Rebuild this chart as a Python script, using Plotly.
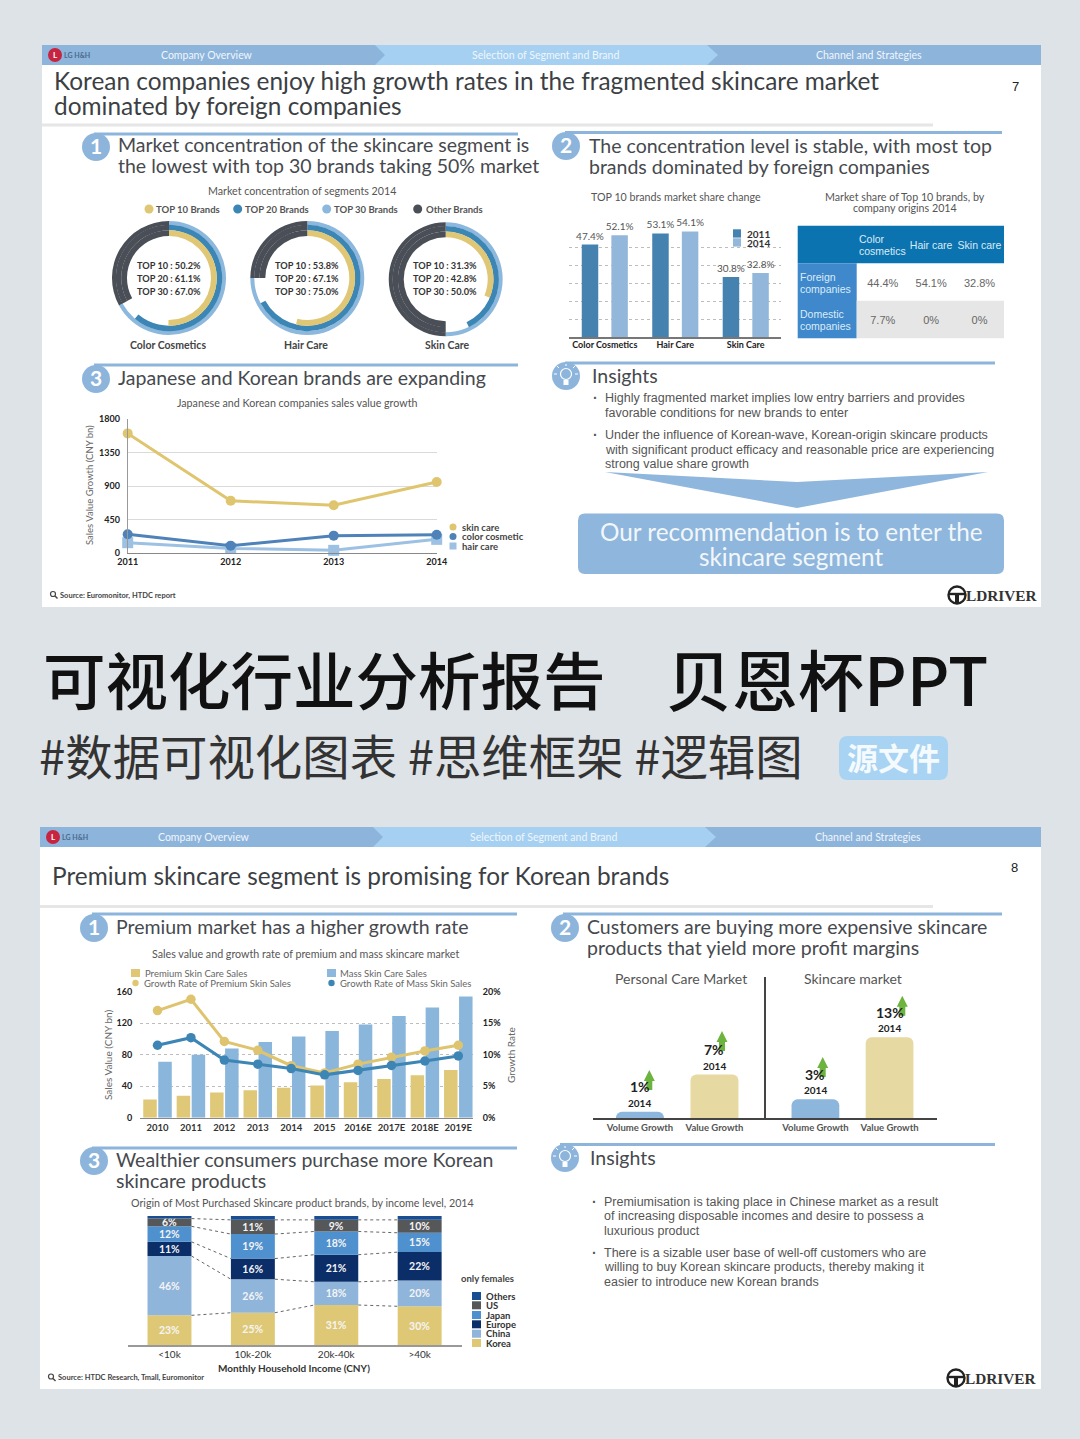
import plotly.graph_objects as go

W, H = 1080, 1439
PAGE = "#DEE3E7"
BLUE = "#8DB5DC"
LIGHT = "#A5D0F2"
YEL = "#DFC775"
DARK = "#4A4F57"
HEAD = "Lato"
SMALL = "Lato"
ARIAL = "Liberation Sans"
CJK = "Noto Sans CJK SC"

# ---- data, slide 7 ----
donut_names = ["Color Cosmetics", "Hair Care", "Skin Care"]
top10 = [50.2, 53.8, 31.3]
top20 = [61.1, 67.1, 42.8]
top30 = [67.0, 75.0, 50.0]
share_cats = ["Color Cosmetics", "Hair Care", "Skin Care"]
share_2011 = [47.4, 53.1, 30.8]
share_2014 = [52.1, 54.1, 32.8]
table_head = ["", "", "Hair\u00a0care", "Skin\u00a0care"]
table_rows = ["", ""]
table_color = ["44.4%", "7.7%"]
table_hair = ["54.1%", "0%"]
table_skin = ["32.8%", "0%"]
jk_years = ["2011", "2012", "2013", "2014"]
jk_skin = [1610, 700, 640, 955]
jk_color = [250, 95, 230, 243]
jk_hair = [135, 58, 32, 180]
jk_ticks = [0, 450, 900, 1350, 1800]

# ---- data, slide 8 ----
prem_years = ["2010", "2011", "2012", "2013", "2014", "2015", "2016E", "2017E", "2018E", "2019E"]
prem_sales = [23, 28, 32, 35, 38, 41, 45, 49, 54, 60.5]
mass_sales = [71, 80, 88, 96, 103, 110, 118.5, 129, 140, 154]
prem_growth = [17.0, 18.8, 12.1, 10.7, 8.25, 7.1, 8.5, 9.6, 10.6, 11.5]
mass_growth = [11.5, 12.7, 9.15, 8.5, 7.8, 6.8, 7.5, 8.3, 9.0, 9.8]
sales_ticks = [0, 40, 80, 120, 160]
growth_ticks = [0, 5, 10, 15, 20]
vg_cats = ["Volume Growth", "Value Growth"]
vg_personal = [1, 7]
vg_skincare = [3, 13]
income = ["<10k", "10k-20k", "20k-40k", ">40k"]
origin_names = ["Korea", "China", "Europe", "Japan", "US", "Others"]
origin_korea = [23, 25, 31, 30]
origin_china = [46, 26, 18, 20]
origin_europe = [11, 16, 21, 22]
origin_japan = [12, 19, 18, 15]
origin_us = [6, 11, 9, 10]
origin_others = [2, 3, 3, 3]
origin_colors = ["#DFC875", "#90B5DB", "#0B2E69", "#4F90CE", "#555759", "#1B4E90"]

shapes, anns, traces = [], [], []


def dx(a, b):
    return [a / W, b / W]


def dy(top, bot):
    return [1 - bot / H, 1 - top / H]


def T(x, y, text, size=11, color="#555", anchor="center", bold=False, font=SMALL, angle=0, weight=None, **kw):
    xr, yr = kw.pop("xref", "x"), kw.pop("yref", "y")
    if xr == "x":
        if anchor == "left":
            x -= 1
        if font == SMALL and size >= 13:
            y -= size * 0.07
    anns.append(dict(x=x, y=y, xref=xr, yref=yr, text=text, showarrow=False,
                     xanchor=anchor, yanchor="middle", textangle=angle, borderpad=0,
                     font=dict(family=font, size=size, color=color, weight=weight or (700 if bold else 400)), **kw))


def rect(x0, y0, x1, y1, fill, **kw):
    shapes.append(dict(type="rect", x0=x0, y0=y0, x1=x1, y1=y1, xref="x", yref="y",
                       fillcolor=fill, line=dict(width=0), layer="below", **kw))


def circ(cx, cy, r, fill="rgba(0,0,0,0)", line=None, lw=0):
    shapes.append(dict(type="circle", x0=cx - r, y0=cy - r, x1=cx + r, y1=cy + r, xref="x", yref="y",
                       fillcolor=fill, line=dict(width=lw, color=line or fill), layer="below"))


def poly(path, fill="rgba(0,0,0,0)", line=None, lw=0):
    shapes.append(dict(type="path", path=path, xref="x", yref="y", fillcolor=fill,
                       line=dict(width=lw, color=line or fill), layer="below"))


def rrect(x0, y0, x1, y1, r, fill):
    p = (f"M {x0+r} {y0} L {x1-r} {y0} Q {x1} {y0} {x1} {y0+r} L {x1} {y1-r} Q {x1} {y1} {x1-r} {y1} "
         f"L {x0+r} {y1} Q {x0} {y1} {x0} {y1-r} L {x0} {y0+r} Q {x0} {y0} {x0+r} {y0} Z")
    poly(p, fill)


def hline(x0, x1, y, color, w):
    shapes.append(dict(type="line", x0=x0, x1=x1, y0=y, y1=y, xref="x", yref="y",
                       line=dict(color=color, width=w), layer="below"))


def slide(ox, top, bottom, right, heads):
    rect(ox, top, right, bottom, "white")
    rect(ox, top, right, top + 20, "#8DB4DB")
    poly(f"M {ox+333} {top} L {ox+665} {top} L {ox+676} {top+10} L {ox+665} {top+20} L {ox+333} {top+20} L {ox+343} {top+10} Z", LIGHT)
    circ(ox + 13, top + 10, 7, "#C8243F")
    T(ox + 13, top + 10, "L", 8, "white", bold=True)
    T(ox + 22, top + 10, "LG H&H", 7, "#4A6A8C", "left", True)
    for x, s in heads:
        T(x, top + 10, s, 10.5, "#F1F6FB", font=HEAD)


def number(cx, cy, s):
    circ(cx, cy, 14, "#8DB5DC")
    T(cx, cy, s, 21, "white", bold=True, font=HEAD)


def bulb(cx, cy):
    circ(cx, cy, 14, "#8DB5DC")
    circ(cx, cy - 2, 5.5, "rgba(0,0,0,0)", "white", 1.2)
    rect(cx - 2.5, cy + 4, cx + 2.5, cy + 9, "white")
    for a, b, c, d in [(-9, -2, -12, -2), (9, -2, 12, -2), (-7, -8, -9, -10), (7, -8, 9, -10), (0, -10, 0, -12)]:
        poly(f"M {cx+a} {cy+b} L {cx+c} {cy+d}", line="white", lw=1)


def logo(x, y):
    circ(x, y, 8.5, "rgba(0,0,0,0)", "#222", 2.4)
    hline(x - 8, x + 8, y - 1, "#222", 2.4)
    rect(x - 2, y - 1, x + 2, y + 8, "#222")
    T(x + 9, y + 0.5, "LDRIVER", 15.3, "#333", "left", True, "Liberation Serif")


def source(x, y, s):
    circ(x - 7, y - 1, 2.5, "rgba(0,0,0,0)", "#444", 1.2)
    poly(f"M {x-5} {y+1} L {x-2.5} {y+3.5}", line="#444", lw=1.4)
    T(x, y, s, 7.5, "#444", "left", True)


TITLE = 24.4
SEC = 19.5
# ---- page furniture ----
slide(42, 45, 607, 1041, [(207, "Company Overview"), (545, "Selection of Segment and Brand"), (869, "Channel and Strategies")])
slide(40, 827, 1389, 1041, [(204, "Company Overview"), (543, "Selection of Segment and Brand"), (868, "Channel and Strategies")])

T(54, 82, "Korean companies enjoy high growth rates in the fragmented skincare market", TITLE, "#3C3F44", "left", font=HEAD)
T(54, 107, "dominated by foreign companies", TITLE, "#3C3F44", "left", font=HEAD)
T(1015, 86, "7", 13, "#222", font=ARIAL)
hline(42, 933, 125, "#E6E6E6", 3)
hline(94, 518, 134, BLUE, 3)
hline(565, 1002, 132.5, BLUE, 3)
hline(94, 518, 365, BLUE, 3)
hline(565, 995, 363, BLUE, 3)
number(96, 147, "1")
number(566, 146, "2")
number(96, 379, "3")
bulb(566, 376)
for x, y, s in [(118, 146, "Market concentration of the skincare segment is"),
                (118, 167, "the lowest with top 30 brands taking 50% market"),
                (589, 147, "The concentration level is stable, with most top"),
                (589, 168, "brands dominated by foreign companies"),
                (118, 379, "Japanese and Korean brands are expanding"),
                (592, 377, "Insights")]:
    T(x, y, s, SEC, "#46494E", "left", font=HEAD)

T(302, 190, "Market concentration of segments 2014", 10.7, "#555", font=SMALL)
for cx, fill, x, s in [(149, YEL, 156, "TOP 10 Brands"), (237.7, "#3C86B5", 245, "TOP 20 Brands"),
                       (326.7, "#8DB8DE", 334, "TOP 30 Brands"), (417.7, DARK, 426, "Other Brands")]:
    circ(cx, 209, 4.5, fill)
    T(x, 209, s, 9.5, "#555", "left", True)

# ---- donuts ----
dcenter = [(169, 278), (307.3, 278), (445.7, 279.3)]
for i, (cx, cy) in enumerate(dcenter):
    t1, t2, t3 = top10[i], top20[i], top30[i]
    rest = 100 - t3
    none = "rgba(0,0,0,0)"
    for r, hole, vals, cols in [(57, 53 / 57, [t3, rest], ["#8DB8DE", DARK]),
                                (53.2, 47.7 / 53.2, [t2, t3 - t2, rest], ["#3C86B5", none, DARK]),
                                (47.8, 42 / 47.8, [t1, t3 - t1, rest], [YEL, none, DARK])]:
        traces.append(go.Pie(values=vals, sort=False, direction="clockwise", rotation=0, hole=hole,
                             marker=dict(colors=cols, line=dict(width=0)), textinfo="none", hoverinfo="skip",
                             showlegend=False, domain=dict(x=dx(cx - r, cx + r), y=dy(cy - r, cy + r))))
    tx = cx - 0.5
    T(tx, 265, f"TOP 10 : {t1:.1f}%", 9.2, "#333", bold=True)
    T(tx, 278, f"TOP 20 : {t2:.1f}%", 9.2, "#333", bold=True)
    T(tx, 291.3, f"TOP 30 : {t3:.1f}%", 9.2, "#333", bold=True)
    T(cx - 1 + (i == 2) * 2, 344.5, donut_names[i], 10.5, "#444", bold=True)

# ---- share bars ----
T(676, 196, "TOP 10 brands market share change", 10.7, "#555")
T(905, 196, "Market share of Top 10 brands, by", 10.7, "#555")
T(905, 207.5, "company origins 2014", 10.7, "#555")
for name, vals, col, off in [("2011", share_2011, "#4682B0", -0.327), ("2014", share_2014, "#93B7DA", 0.093)]:
    traces.append(go.Bar(x=share_cats, y=vals, name=name, marker=dict(color=col, line=dict(width=0)),
                         width=0.234, offset=off,
                         xaxis="x2", yaxis="y2", text=[f"{v}%" for v in vals], textposition="outside",
                         textfont=dict(family=SMALL, size=10, color="#555"), cliponaxis=False,
                         hoverinfo="skip", showlegend=False, constraintext="none"))
for y, s, col in [(233.8, "2011", "#4682B0"), (242.8, "2014", "#93B7DA")]:
    rect(733, y - 4.5, 741, y + 3.8, col)
    T(747, y, s, 10, "#333", "left", True)

# ---- table ----
rect(797.7, 225.7, 1004, 263.3, "#0B73AF")
rect(797.7, 263.3, 856.7, 338.3, "#3E88CB")
rect(856.7, 300.8, 1004, 338.3, "#E6E6E6")
traces.append(go.Table(
    domain=dict(x=dx(799.7, 1004), y=dy(233, 349)),
    columnwidth=[59, 48.5, 48.5, 48.5],
    header=dict(values=table_head, height=37.6, fill_color="rgba(0,0,0,0)", line_width=0, align="center",
                font=dict(family=ARIAL, size=10.5, color="#DCEBF6")),
    cells=dict(values=[table_rows, table_color, table_hair, table_skin], height=37.6,
               fill_color="rgba(0,0,0,0)", line_width=0, align="center",
               font=dict(family=ARIAL, size=11, color="#666"))))
T(859, 238.5, "Color", 10.5, "#DCEBF6", "left", font=ARIAL)
T(859, 250.5, "cosmetics", 10.5, "#DCEBF6", "left", font=ARIAL)
T(800, 276.5, "Foreign", 10.5, "#DCEBF8", "left", font=ARIAL)
T(800, 288.5, "companies", 10.5, "#DCEBF8", "left", font=ARIAL)
T(800, 313.7, "Domestic", 10.5, "#DCEBF8", "left", font=ARIAL)
T(800, 325.7, "companies", 10.5, "#DCEBF8", "left", font=ARIAL)

# ---- line chart ----
T(297, 402, "Japanese and Korean companies sales value growth", 10.7, "#555")
for vals, col, sym, sz in [(jk_hair, "#9CC1E3", "square", 11), (jk_color, "#4F82B8", "circle", 10), (jk_skin, "#DFC56E", "circle", 10)]:
    traces.append(go.Scatter(x=jk_years, y=vals, mode="lines+markers", xaxis="x3", yaxis="y3", cliponaxis=False,
                             line=dict(color=col, width=3), marker=dict(color=col, size=sz, symbol=sym),
                             hoverinfo="skip", showlegend=False))
T(89, 485, "Sales Value Growth (CNY bn)", 9.5, "#666", bold=False, angle=-90)
for y, col, s, mk in [(527, "#DFC56E", "skin care", "c"), (536.5, "#4F82B8", "color cosmetic", "c"), (546, "#9CC1E3", "hair care", "s")]:
    if mk == "c":
        circ(453, y, 3.5, col)
    else:
        rect(449.5, y - 3.5, 456.5, y + 3.5, col)
    T(462, y, s, 9.5, "#444", "left", True)
source(60, 595, "Source: Euromonitor, HTDC report")

# ---- insights 1 ----
for x, y, s in [(605, 398, "Highly fragmented market implies low entry barriers and provides"),
                (605, 413, "favorable conditions for new brands to enter"),
                (605, 435, "Under the influence of Korean-wave, Korean-origin skincare products"),
                (605, 450, "with significant product efficacy and reasonable price are experiencing"),
                (605, 464, "strong value share growth")]:
    T(x, y, s, 12.5, "#555", "left", font=ARIAL)
T(595, 398, "·", 14, "#555", font=ARIAL, bold=True)
T(595, 435, "·", 14, "#555", font=ARIAL, bold=True)
poly("M 605 472 L 797 482 L 988 472 L 797 508 Z", "#8FB6DC")
rrect(578, 513.5, 1004, 574, 7, "#8FB6DC")
T(791, 533, "Our recommendation is to enter the", 24.3, "#F2F7FB", font=HEAD)
T(791, 558, "skincare segment", 24.3, "#F2F7FB", font=HEAD)
logo(957, 595)

# ---- banner text ----
T(43, 677, "可视化行业分析报告", 62.5, "#111", "left", False, CJK, weight=500)
T(666, 677, "贝恩杯PPT", 66, "#111", "left", False, CJK, weight=500)
T(39, 754, "#数据可视化图表 #思维框架 #逻辑图", 47.4, "#333", "left", False, CJK)
rrect(839, 736, 948, 780, 9, "#A8D3F2")
T(893.5, 756, "源文件", 31, "#F4FAFE", bold=True, font=CJK)

# ---- slide 8 text ----
T(52, 877, "Premium skincare segment is promising for Korean brands", TITLE, "#3C3F44", "left", font=HEAD)
T(1014, 867, "8", 13, "#222", font=ARIAL)
hline(40, 933, 906.5, "#E6E6E6", 3)
hline(92, 517, 914, BLUE, 3)
hline(563, 1002, 914, BLUE, 3)
hline(92, 517, 1148, BLUE, 3)
hline(560, 995, 1144.5, BLUE, 3)
number(94, 928, "1")
number(565, 928, "2")
number(94, 1161, "3")
bulb(565, 1158)
for x, y, s in [(116, 928, "Premium market has a higher growth rate"),
                (587, 928, "Customers are buying more expensive skincare"),
                (587, 949, "products that yield more profit margins"),
                (116, 1161, "Wealthier consumers purchase more Korean"),
                (116, 1182, "skincare products"),
                (590, 1159, "Insights")]:
    T(x, y, s, SEC, "#46494E", "left", font=HEAD)

# ---- combo chart ----
T(305, 953, "Sales value and growth rate of premium and mass skincare market", 10.7, "#555")
rect(131, 969, 140, 977, YEL)
T(145, 973, "Premium Skin Care Sales", 9.5, "#666", "left")
circ(135.5, 983, 3.2, YEL)
T(144, 983, "Growth Rate of Premium Skin Sales", 9.5, "#666", "left")
rect(327, 969, 336, 977, "#8DB7DD")
T(340, 973, "Mass Skin Care Sales", 9.5, "#666", "left")
circ(331.5, 983, 3.2, "#3D85B5")
T(340, 983, "Growth Rate of Mass Skin Sales", 9.5, "#666", "left")
for vals, col, off in [(prem_sales, "#DFC878", -0.4265), (mass_sales, "#8AB6DC", 0.0225)]:
    traces.append(go.Bar(x=prem_years, y=vals, marker=dict(color=col, line=dict(width=0)), xaxis="x4", yaxis="y4",
                         width=0.404, offset=off, hoverinfo="skip", showlegend=False))
for vals, col in [(prem_growth, "#DFC46F"), (mass_growth, "#3D85B5")]:
    traces.append(go.Scatter(x=prem_years, y=vals, mode="lines+markers", xaxis="x4", yaxis="y5", cliponaxis=False,
                             line=dict(color=col, width=3), marker=dict(color=col, size=9.5),
                             hoverinfo="skip", showlegend=False))
T(108, 1055, "Sales Value (CNY bn)", 10, "#666", angle=-90)
T(511, 1055, "Growth Rate", 10, "#666", angle=-90)

# ---- growth rounded bars ----
T(681, 979, "Personal Care Market", 14, "#555", font=SMALL)
T(852.7, 979, "Skincare market", 14, "#555", font=SMALL)
for vals, xa, ya in [(vg_personal, "x5", "y6"), (vg_skincare, "x6", "y7")]:
    traces.append(go.Bar(x=vg_cats, y=vals, width=0.644, offset=-0.322, xaxis=xa, yaxis=ya, hoverinfo="skip", showlegend=False,
                         marker=dict(color=["#8DB6DC", "#E6D9A2"], line=dict(width=0), cornerradius=6)))
    for c, v in zip(vg_cats, vals):
        T(c, v, "2014", 10, "#222", bold=True, xref=xa, yref=ya, yshift=9)
        T(c, v, f"{v}%", 14, "#222", bold=True, xref=xa, yref=ya, yshift=25)
shapes.append(dict(type="line", x0=765, x1=765, y0=977, y1=1119, xref="x", yref="y", line=dict(color="#444", width=2), layer="below"))
for x, tip in [(649.3, 1070), (722, 1031), (822.7, 1057), (902.3, 995.7)]:
    poly(f"M {x} {tip} L {x+5.5} {tip+11} L {x+3} {tip+11} L {x+3} {tip+20} L {x-3} {tip+20} L {x-3} {tip+11} L {x-5.5} {tip+11} Z", "#6DB33F")

# ---- stacked chart ----
T(302.7, 1202.5, "Origin of Most Purchased Skincare product brands, by income level, 2014", 10.7, "#555")
origin_series = [origin_korea, origin_china, origin_europe, origin_japan, origin_us, origin_others]
BW = 0.527
cum = [0, 0, 0, 0]
for name, vals, col in zip(origin_names, origin_series, origin_colors):
    lab = [""] * 4 if name == "Others" else [f"{v}%" for v in vals]
    traces.append(go.Bar(x=income, y=vals, base=cum, name=name, width=BW, offset=-BW / 2,
                         marker=dict(color=col, line=dict(width=0)), xaxis="x7", yaxis="y8",
                         text=lab, textposition="inside", insidetextanchor="middle", textangle=0, constraintext="none",
                         textfont=dict(family=SMALL, size=10.5, color="#F4F4F4", weight=700), hoverinfo="skip", showlegend=False))
    cum = [a + b for a, b in zip(cum, vals)]
    if name != "Others":
        for i in range(3):
            traces.append(go.Scatter(x=[i + BW / 2, i + 1 - BW / 2], y=[cum[i], cum[i + 1]], mode="lines", xaxis="x8", yaxis="y8",
                                     line=dict(color="#666", width=1, dash="dot"), hoverinfo="skip", showlegend=False))
T(487, 1278, "only females", 9.5, "#444", bold=True)
for y, col, s in zip([1343, 1333.7, 1324.3, 1315, 1305.3, 1296], origin_colors, origin_names):
    rect(472, y - 4, 481, y + 4, col)
    T(486, y, s, 9.5, "#333", "left", True)
T(294, 1368, "Monthly Household Income (CNY)", 10, "#333", bold=True)
source(58, 1377.5, "Source: HTDC Research, Tmall, Euromonitor")

# ---- insights 2 ----
for x, y, s in [(604, 1202, "Premiumisation is taking place in Chinese market as a result"),
                (604, 1216, "of increasing disposable incomes and desire to possess a"),
                (604, 1231, "luxurious product"),
                (604, 1253, "There is a sizable user base of well-off customers who are"),
                (604, 1267, "willing to buy Korean skincare products, thereby making it"),
                (604, 1282, "easier to introduce new Korean brands")]:
    T(x, y, s, 12.5, "#555", "left", font=ARIAL)
T(594, 1202, "·", 14, "#555", font=ARIAL, bold=True)
T(594, 1253, "·", 14, "#555", font=ARIAL, bold=True)
logo(956, 1378)

tickbold = dict(family=SMALL, size=9, color="#222", weight=700)
hidden = dict(visible=False, fixedrange=True, automargin=False)
NOTICK = "rgba(0,0,0,0)"
catx = dict(type="category", showgrid=False, zeroline=False, ticks="", fixedrange=True, automargin=False)

layout = dict(
    template="none",
    width=W, height=H, margin=dict(l=0, r=0, t=0, b=0, pad=0), autosize=False,
    paper_bgcolor=PAGE, plot_bgcolor="rgba(0,0,0,0)", showlegend=False, font=dict(family=SMALL),
    shapes=shapes, annotations=anns, barmode="group",
    xaxis=dict(range=[0, W], domain=[0, 1], **hidden),
    yaxis=dict(range=[H, 0], domain=[0, 1], **hidden),
    # share bars
    xaxis2=dict(domain=dx(569, 781), anchor="y2", range=[-0.508, 2.5], tickfont=dict(family=SMALL, size=9, color="#222", weight=700),
                showline=True, linecolor="#777", linewidth=1.5, ticklabelstandoff=-1, **catx),
    yaxis2=dict(domain=dy(229.7, 337), anchor="x2", range=[0, 55], tick0=0, dtick=55 / 6, showticklabels=False, showline=False, ticks="",
                showgrid=True, gridcolor="#BDBDBD", griddash="dot", gridwidth=1, zeroline=False, fixedrange=True, automargin=False),
    # line chart
    xaxis3=dict(domain=dx(127.7, 436.7), anchor="y3", range=[0, 3], tickfont=tickbold, showline=True, linecolor="#888", linewidth=1, **catx),
    yaxis3=dict(domain=dy(419.3, 552.7), anchor="x3", range=[0, 1800], tickvals=jk_ticks, tickfont=tickbold, showgrid=True, ticks="outside",
                ticklen=5, tickcolor=NOTICK, gridcolor="#DADADA", gridwidth=1, zeroline=False, showline=True, linecolor="#999", linewidth=1,
                fixedrange=True, automargin=False),
    # combo
    xaxis4=dict(domain=dx(140, 473), anchor="y4", range=[-0.524, 9.44], tickfont=dict(family=SMALL, size=9.5, color="#333", weight=700),
                showline=True, linecolor="#888", linewidth=1, ticklabelstandoff=1, **catx),
    yaxis4=dict(domain=dy(991.7, 1117.7), anchor="x4", range=[0, 160], tickvals=sales_ticks, tickfont=tickbold, showgrid=True, ticks="outside",
                ticklen=5, tickcolor=NOTICK, gridcolor="#BDBDBD", griddash="dot", zeroline=False, fixedrange=True, automargin=False),
    yaxis5=dict(domain=dy(991.7, 1117.7), anchor="x4", overlaying="y4", side="right", range=[0, 20], tickvals=growth_ticks, ticks="outside",
                ticklen=7, tickcolor=NOTICK, ticktext=[f"{v}%" for v in growth_ticks], tickfont=tickbold, showgrid=False, zeroline=False,
                fixedrange=True, automargin=False),
    # growth bars
    xaxis5=dict(domain=dx(593, 765), anchor="y6", range=[-0.63, 1.678], tickfont=dict(family=SMALL, size=9.5, color="#555", weight=700),
                showline=True, linecolor="#444", linewidth=2, **catx),
    yaxis6=dict(domain=dy(1000, 1118), anchor="x5", range=[0, 19], **hidden),
    xaxis6=dict(domain=dx(765, 937), anchor="y7", range=[-0.68, 1.64], tickfont=dict(family=SMALL, size=9.5, color="#555", weight=700),
                showline=True, linecolor="#444", linewidth=2, **catx),
    yaxis7=dict(domain=dy(1000, 1118), anchor="x6", range=[0, 19], **hidden),
    # stacked
    xaxis7=dict(domain=dx(127.7, 461.7), anchor="y8", range=[-0.501, 3.504], tickfont=dict(family=SMALL, size=10, color="#333", weight=400),
                showline=True, linecolor="#999", linewidth=1.5, ticklabelstandoff=-1, **catx),
    yaxis8=dict(domain=dy(1216, 1345), anchor="x7", range=[0, 100], **hidden),
    xaxis8=dict(domain=dx(127.7, 461.7), anchor="y8", overlaying="x7", range=[-0.501, 3.504], **hidden),
)
fig = go.Figure(data=traces, layout=layout)
fig.write_html("out.html", config=dict(displayModeBar=False, staticPlot=True),
               post_script="document.body.style.margin='0';document.body.style.overflow='hidden';")
